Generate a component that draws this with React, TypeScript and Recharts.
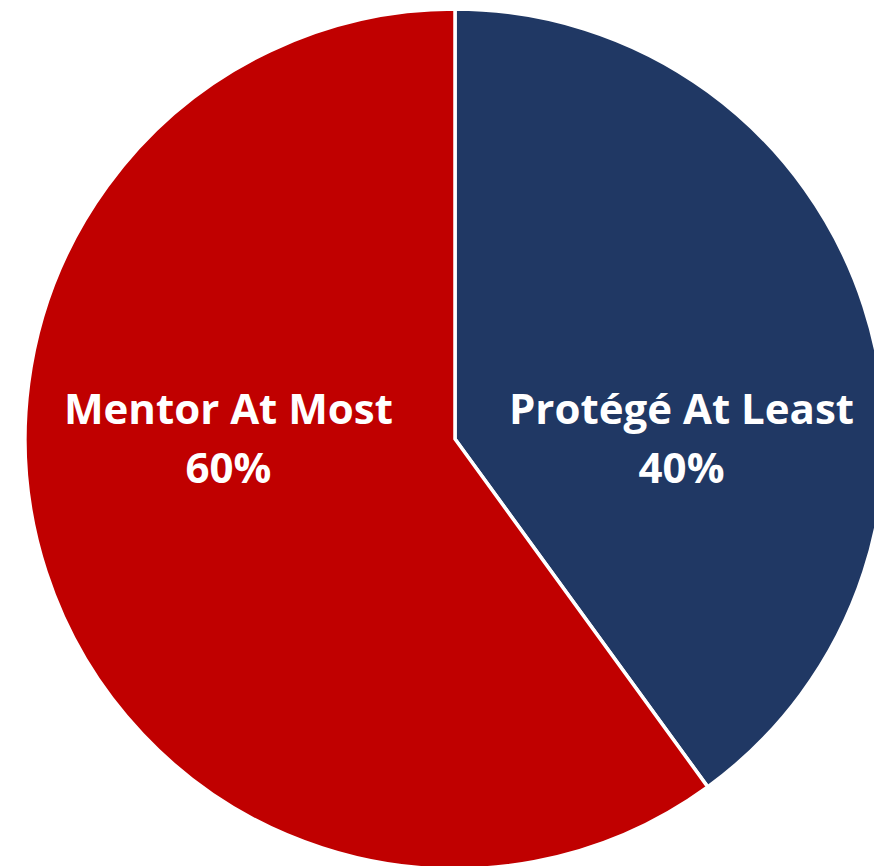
import React from "react";
import { PieChart, Pie, Cell } from "recharts";

const categories = ["Protégé At Least", "Mentor At Most"];
const values = [40, 60];
const colors = ["#203864", "#C00000"];

const data = categories.map((name, i) => ({ name, value: values[i] }));

const RAD = Math.PI / 180;

const renderLabel = (props: any) => {
  const { cx, cy, midAngle, outerRadius, name, percent } = props;
  const x = cx + Math.cos(-midAngle * RAD) * outerRadius * 0.554;
  const y = cy;
  return (
    <text
      x={x}
      y={y}
      fill="#FFFFFF"
      textAnchor="middle"
      fontFamily="'Open Sans', Lato, sans-serif"
      fontWeight="bold"
      fontSize={42}
    >
      <tspan x={x} dy={-15}>{name}</tspan>
      <tspan x={x} dy={59}>{`${Math.round(percent * 100)}%`}</tspan>
    </text>
  );
};

export default function App() {
  return (
    <div style={{ width: 882, height: 866 }}>
      <PieChart width={882} height={866} margin={{ top: 0, right: 0, bottom: 0, left: 0 }}>
        <Pie
          data={data}
          dataKey="value"
          nameKey="name"
          cx={447}
          cy={431}
          outerRadius={430}
          startAngle={90}
          endAngle={-270}
          stroke="#FFFFFF"
          strokeWidth={3.5}
          label={renderLabel}
          labelLine={false}
          isAnimationActive={false}
        >
          {data.map((d, i) => (
            <Cell key={d.name} fill={colors[i]} />
          ))}
        </Pie>
      </PieChart>
    </div>
  );
}
